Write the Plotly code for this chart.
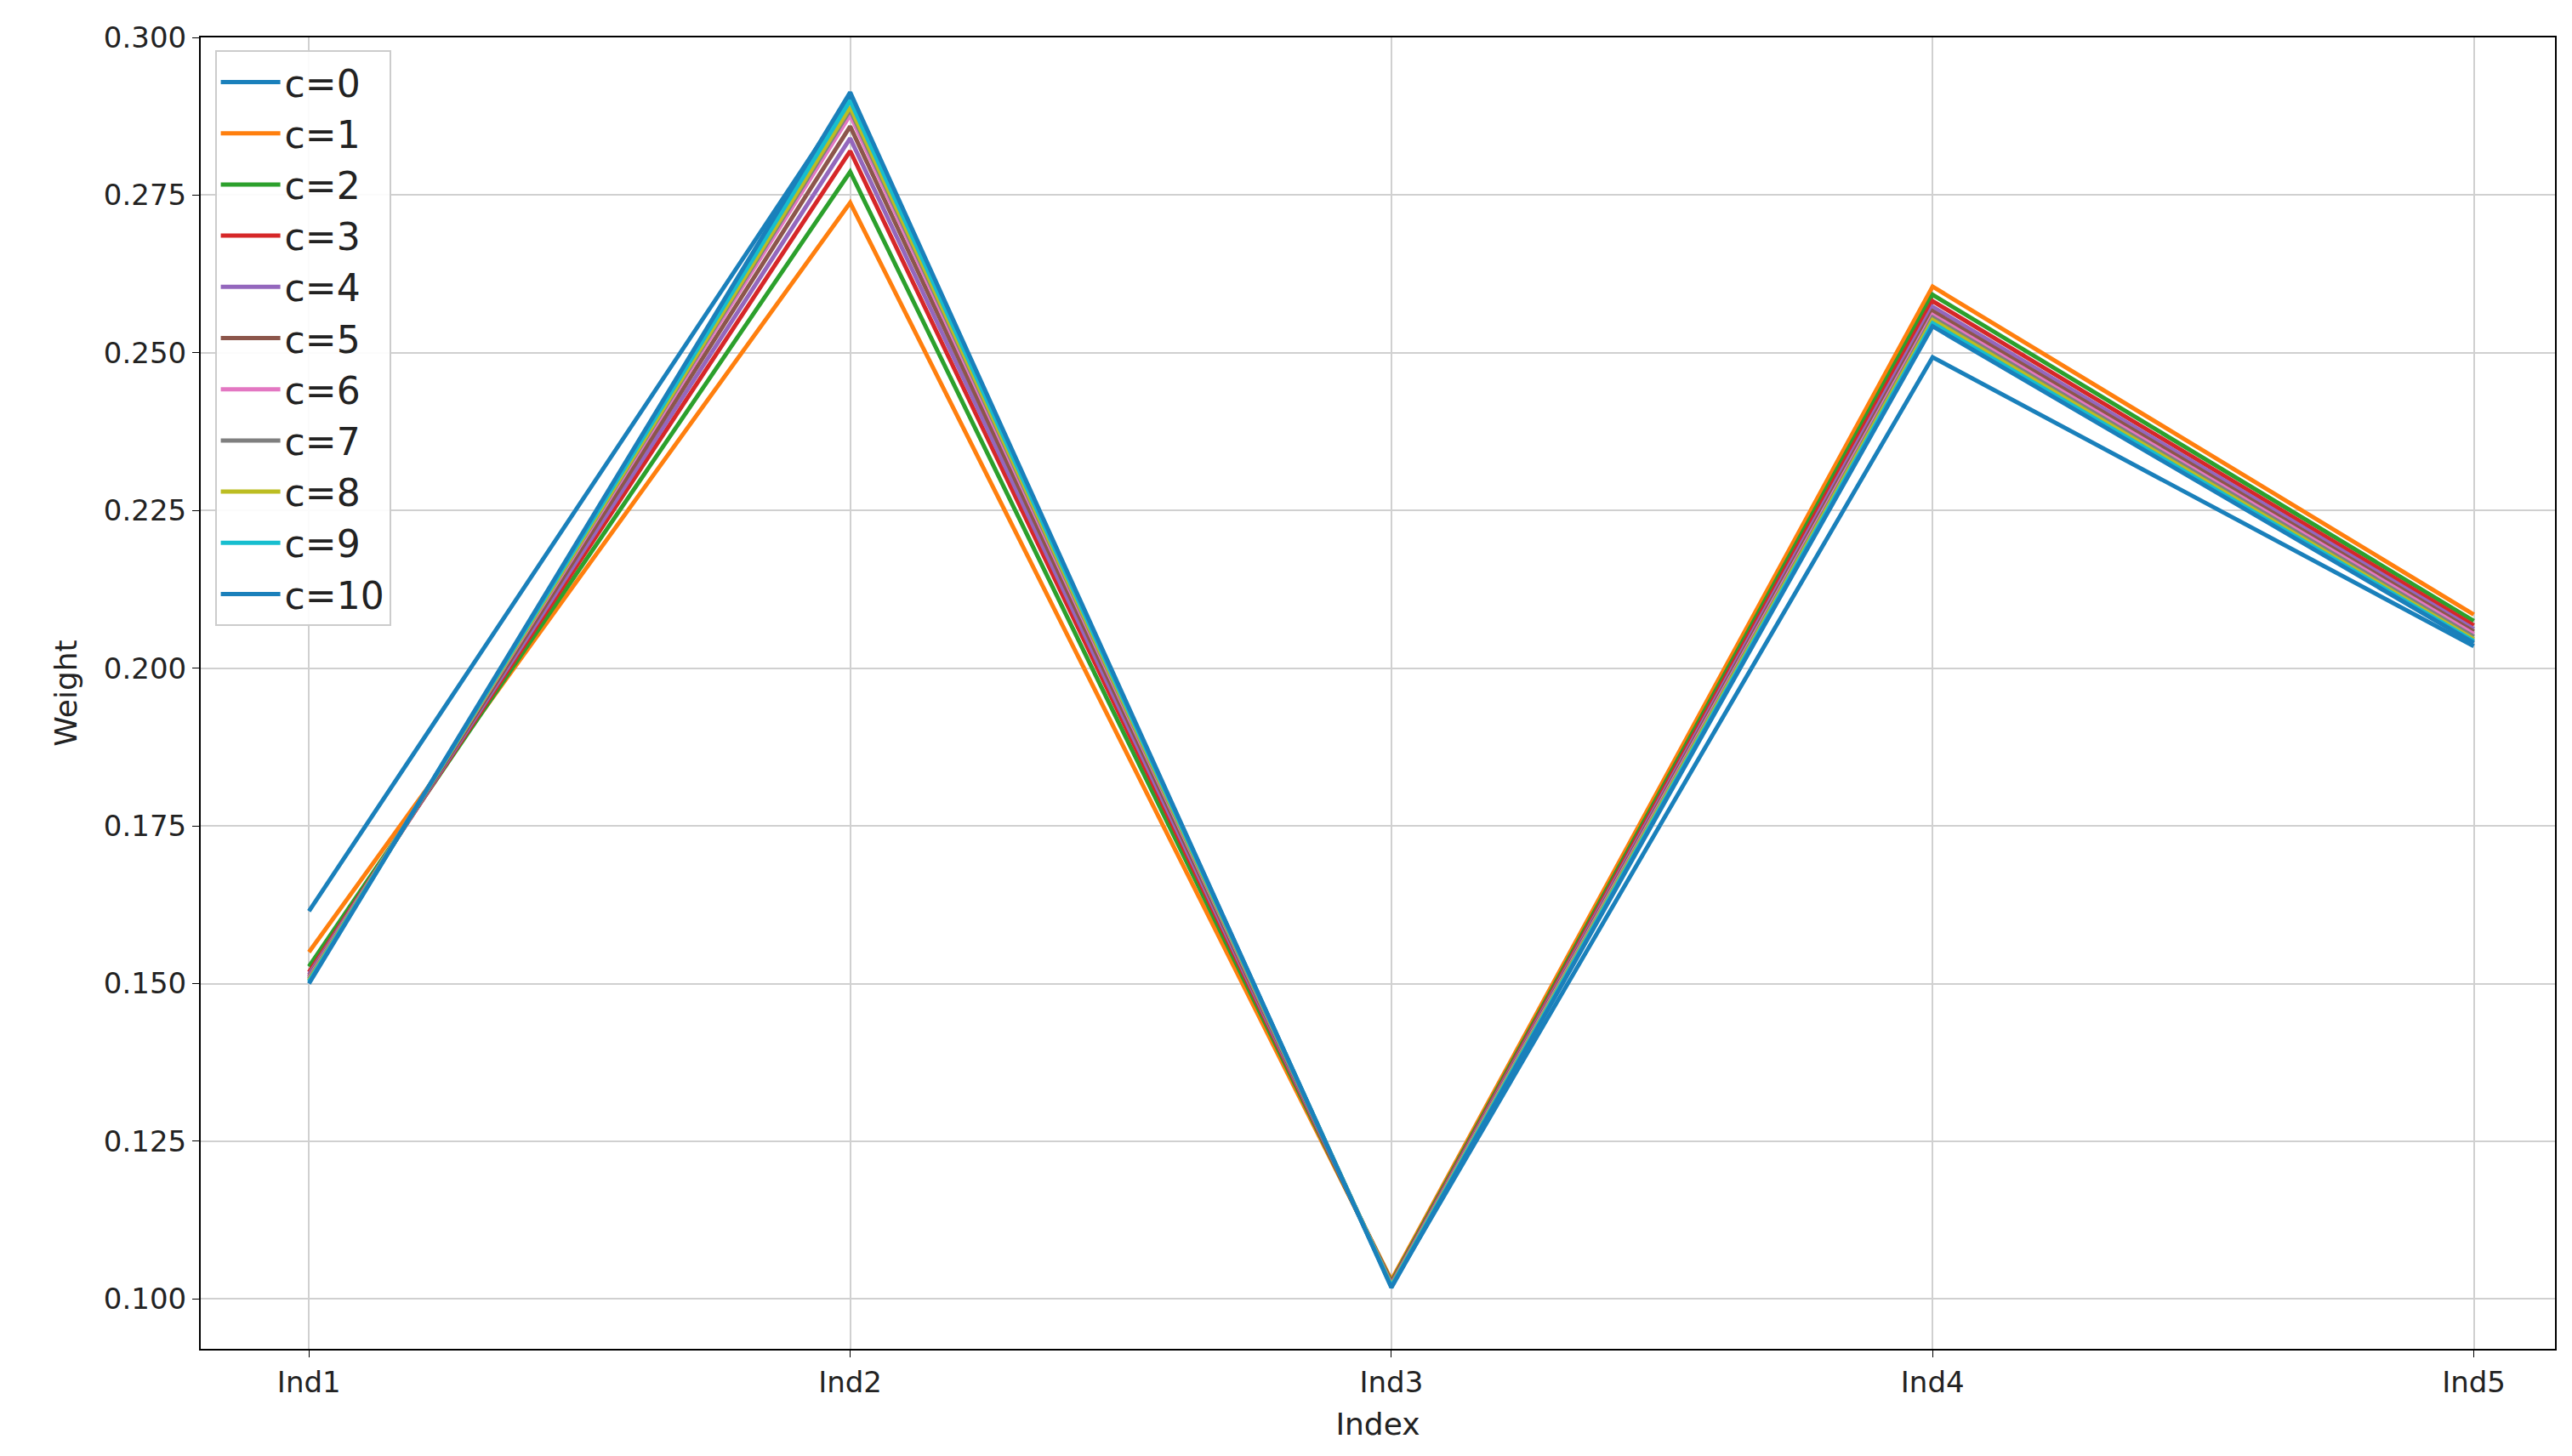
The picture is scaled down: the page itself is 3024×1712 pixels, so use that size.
import plotly.graph_objects as go

categories = ["Ind1", "Ind2", "Ind3", "Ind4", "Ind5"]
labels = [f"c={i}" for i in range(11)]
colors = ["#1a80bb", "#ff7f0e", "#2ca02c", "#d62728", "#9467bd", "#8c564b",
          "#e377c2", "#7f7f7f", "#bcbd22", "#17becf", "#1a80bb"]
values = [
    [0.1615, 0.2905, 0.1020, 0.2493, 0.2035],
    [0.1550, 0.2738, 0.1030, 0.2605, 0.2085],
    [0.1527, 0.2787, 0.1027, 0.2592, 0.2075],
    [0.1518, 0.2820, 0.1025, 0.2582, 0.2068],
    [0.1514, 0.2840, 0.1024, 0.2573, 0.2062],
    [0.1511, 0.2859, 0.1023, 0.2566, 0.2058],
    [0.1509, 0.2877, 0.1022, 0.2560, 0.2054],
    [0.1507, 0.2885, 0.1021, 0.2556, 0.2050],
    [0.1505, 0.2890, 0.1021, 0.2552, 0.2046],
    [0.1503, 0.2900, 0.1020, 0.2547, 0.2043],
    [0.1500, 0.2913, 0.1018, 0.2542, 0.2040],
]

fig = go.Figure()
for lab, col, v in zip(labels, colors, values):
    fig.add_trace(go.Scatter(x=categories, y=v, name=lab, mode="lines",
                             line=dict(color=col, width=5)))

axis = dict(showline=True, linecolor="black", linewidth=2, mirror=True,
            showgrid=True, gridcolor="#d0d0d0", gridwidth=2,
            ticks="outside", ticklen=8, tickcolor="black", zeroline=False,
            tickfont=dict(size=34, color="#222"))
fig.update_layout(
    width=3024, height=1712, plot_bgcolor="white", paper_bgcolor="white",
    font=dict(family="DejaVu Sans", size=34, color="#222"),
    margin=dict(l=228, r=28, t=36, b=134),
    xaxis=dict(axis, title=dict(text="Index", font=dict(size=36), standoff=18),
               range=[-0.2, 4.15]),
    yaxis=dict(axis, title=dict(text="Weight", font=dict(size=36), standoff=20),
               range=[0.0921, 0.3], tickformat=".3f", dtick=0.025,
               tick0=0.1),
    legend=dict(x=0.006, y=0.99, xanchor="left", yanchor="top",
                bordercolor="#cccccc", borderwidth=2, bgcolor="rgba(255,255,255,0.9)",
                font=dict(size=44), tracegroupgap=0, itemwidth=70),
)
fig.write_html("out.html")
